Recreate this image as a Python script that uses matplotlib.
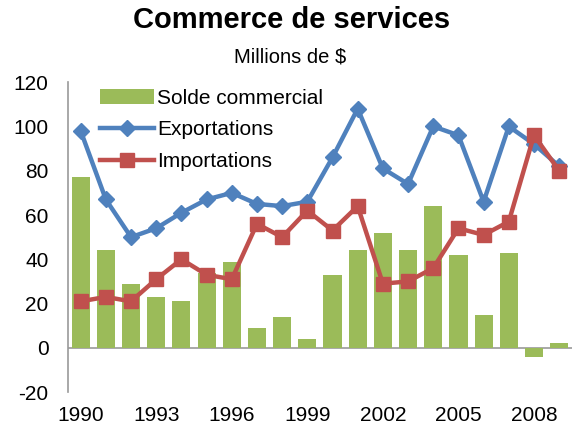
import numpy as np
import matplotlib
matplotlib.use('Agg')
import matplotlib.pyplot as plt

plt.rcParams['font.family'] = ['Liberation Sans', 'DejaVu Sans']
plt.rcParams['axes.unicode_minus'] = False

years = list(range(1990, 2010))
solde = [77, 44, 29, 23, 21, 34, 39, 9, 14, 4, 33, 44, 52, 44, 64, 42, 15, 43, -4, 2]
exportations = [98, 67, 50, 54, 61, 67, 70, 65, 64, 66, 86, 108, 81, 74, 100, 96, 66, 100, 92, 82]
importations = [21, 23, 21, 31, 40, 33, 31, 56, 50, 62, 53, 64, 29, 30, 36, 54, 51, 57, 96, 80]
xtick_years = [1990, 1993, 1996, 1999, 2002, 2005, 2008]
yticks = [-20, 0, 20, 40, 60, 80, 100, 120]

green = '#9BBB59'
blue = '#4F81BD'
red = '#C0504D'

fig = plt.figure(figsize=(5.72, 4.30), dpi=100)
ax = fig.add_axes([0.119, 0.088, 0.885, 0.721])

ax.bar(years, solde, width=0.72, color=green, label='Solde commercial', zorder=2)
ax.plot(years, exportations, color=blue, lw=3.2, marker='D', markersize=8,
        label='Exportations', zorder=3)
ax.plot(years, importations, color=red, lw=3.2, marker='s', markersize=10,
        label='Importations', zorder=4)

ax.axhline(0, color='#999999', lw=1.2, zorder=1)
ax.set_xlim(1989.5, 2009.6)
ax.set_ylim(-20, 120)
ax.set_yticks(yticks)
ax.set_xticks(xtick_years)
ax.tick_params(axis='both', length=0, labelsize=15)
ax.tick_params(axis='x', pad=10)
ax.tick_params(axis='y', pad=14)

for s in ['top', 'right', 'bottom']:
    ax.spines[s].set_visible(False)
ax.spines['left'].set_color('#999999')
ax.spines['left'].set_linewidth(1.2)

fig.text(0.51, 0.953, 'Commerce de services', ha='center', va='center',
         fontsize=21, fontweight='bold')
fig.text(0.507, 0.868, 'Millions de $', ha='center', va='center', fontsize=14.5)

# legend order: bars first, then the two lines
h, l = ax.get_legend_handles_labels()
order = [2, 0, 1]
ax.legend([h[i] for i in order], [l[i] for i in order],
          loc='upper left', bbox_to_anchor=(0.047, 1.005), frameon=False,
          fontsize=15, handlelength=2.6, handletextpad=0.15, labelspacing=0.6,
          borderaxespad=0)

fig.savefig('out.png', dpi=100)
